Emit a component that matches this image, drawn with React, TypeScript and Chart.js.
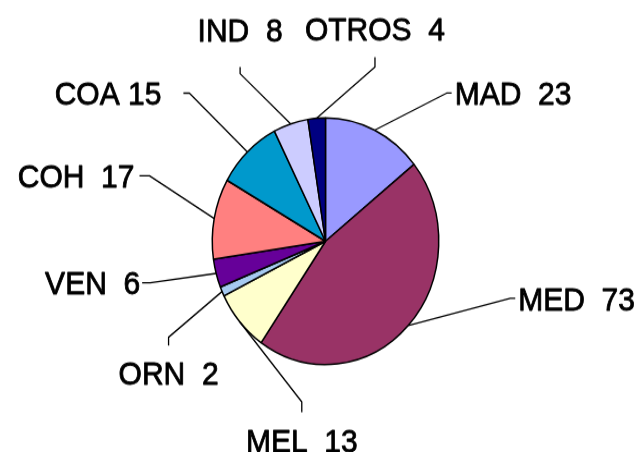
import React, { useEffect, useRef } from 'react';
import { Chart, registerables } from 'chart.js';

Chart.register(...registerables);

// ---- data ----
const categories = ['MAD', 'MED', 'MEL', 'ORN', 'VEN', 'COH', 'COA', 'IND', 'OTROS'];
const values = [23, 73, 13, 2, 6, 17, 15, 8, 4];
const separators = ['  ', '  ', '  ', '  ', '  ', '  ', ' ', '  ', '  '];
const colors = ['#9999FF', '#993366', '#FFFFCC', '#A6CAF0', '#660099', '#FF8080', '#0099CC', '#CCCCFF', '#000080'];

// ---- label layout: bend offset from slice edge midpoint, side of label, stub & gap ----
type Side = 'left' | 'right' | 'above' | 'below';
const labelLayout: { side: Side; dx: number; dy: number; stub: number; gap: number }[] = [
  { side: 'right', dx: 72, dy: -34, stub: 5, gap: 3 },
  { side: 'right', dx: 102, dy: -25, stub: 5, gap: 3 },
  { side: 'below', dx: 62, dy: 73.5, stub: 9.5, gap: 14.7 },
  { side: 'below', dx: -53.5, dy: 42, stub: 7.6, gap: 13.8 },
  { side: 'left', dx: -66, dy: 8.6, stub: 8, gap: 2 },
  { side: 'left', dx: -64.7, dy: -39.3, stub: 10, gap: 5 },
  { side: 'left', dx: -58, dy: -54, stub: 6, gap: 22 },
  { side: 'above', dx: -50.6, dy: -46.1, stub: 6, gap: 23.6 },
  { side: 'above', dx: 58.3, dy: -47, stub: 9, gap: 16 },
];

const FONT_SIZE = 30;
const CAP = FONT_SIZE * 0.716;

const labelPlugin = {
  id: 'excelLabels',
  afterDatasetsDraw(chart: any) {
    const ctx: CanvasRenderingContext2D = chart.ctx;
    const meta = chart.getDatasetMeta(0);
    ctx.save();
    ctx.font = `${FONT_SIZE}px "Liberation Sans", Arial, sans-serif`;
    ctx.fillStyle = '#000';
    ctx.strokeStyle = '#000';
    ctx.lineJoin = 'round';
    meta.data.forEach((arc: any, i: number) => {
      const p = arc.getProps(['x', 'y', 'startAngle', 'endAngle', 'outerRadius'], true);
      const mid = (p.startAngle + p.endAngle) / 2;
      const ex = p.x + Math.cos(mid) * p.outerRadius;
      const ey = p.y + Math.sin(mid) * p.outerRadius;
      const L = labelLayout[i];
      const bx = ex + L.dx;
      const by = ey + L.dy;
      let sx = bx;
      let sy = by;
      if (L.side === 'right') sx = bx + L.stub;
      if (L.side === 'left') sx = bx - L.stub;
      if (L.side === 'below') sy = by + L.stub;
      if (L.side === 'above') sy = by - L.stub;
      ctx.lineWidth = 1.3;
      ctx.beginPath();
      ctx.moveTo(ex, ey);
      ctx.lineTo(bx, by);
      ctx.lineTo(sx, sy);
      ctx.stroke();

      const text = categories[i] + separators[i] + values[i];
      ctx.textBaseline = 'alphabetic';
      let tx = sx;
      let ty = sy;
      if (L.side === 'right') {
        ctx.textAlign = 'left';
        tx = sx + L.gap;
        ty = sy + CAP / 2;
      } else if (L.side === 'left') {
        ctx.textAlign = 'right';
        tx = sx - L.gap;
        ty = sy + CAP / 2;
      } else if (L.side === 'below') {
        ctx.textAlign = 'center';
        ty = sy + L.gap + CAP;
      } else {
        ctx.textAlign = 'center';
        ty = sy - L.gap;
      }
      ctx.fillText(text, tx, ty);
      ctx.lineWidth = 0.8;
      ctx.strokeText(text, tx, ty);
    });
    ctx.restore();
  },
};

export default function App() {
  const ref = useRef<HTMLCanvasElement | null>(null);
  useEffect(() => {
    if (!ref.current) return;
    const chart = new Chart(ref.current, {
      type: 'pie',
      data: {
        labels: categories,
        datasets: [
          {
            data: values,
            backgroundColor: colors,
            borderColor: '#000000',
            borderWidth: 1.5,
          },
        ],
      },
      options: {
        responsive: false,
        animation: false,
        devicePixelRatio: 1,
        events: [],
        layout: { padding: { left: 211.5, right: 201.5, top: 107.5, bottom: 79.5 } },
        plugins: { legend: { display: false }, tooltip: { enabled: false } },
      },
      plugins: [labelPlugin],
    });
    return () => chart.destroy();
  }, []);
  return (
    <div style={{ position: 'absolute', left: 0, top: 0, width: 641, height: 452, background: '#fff' }}>
      <canvas ref={ref} width={641} height={415} style={{ width: '641px', height: '452px', display: 'block' }} />
    </div>
  );
}
